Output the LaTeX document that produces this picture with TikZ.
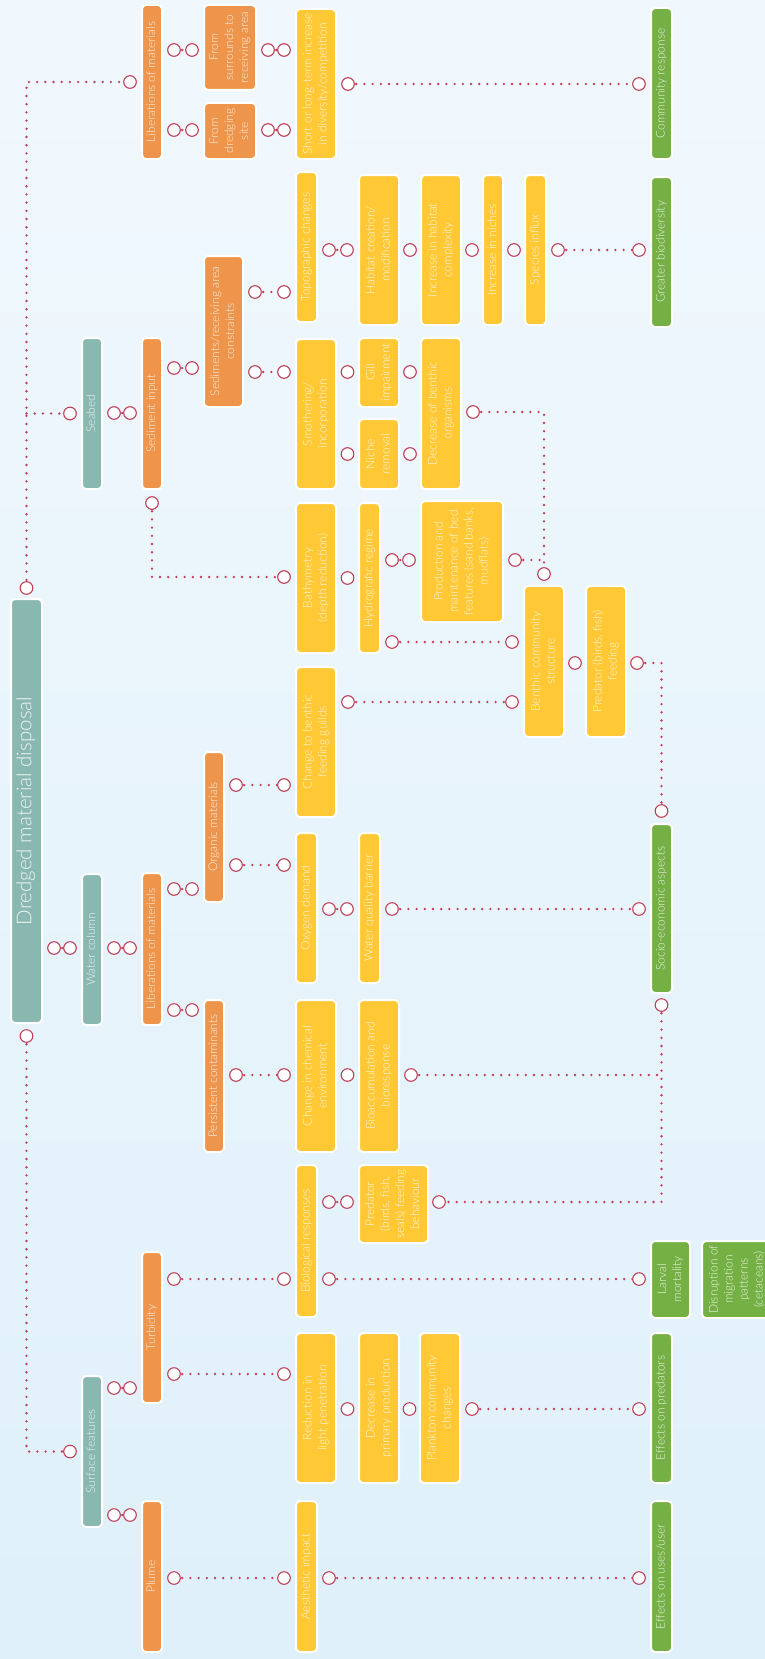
\documentclass[tikz,border=0pt]{standalone}
\usepackage{fontspec}
\setmainfont{Lato Light}
\usepackage{graphicx}
\usetikzlibrary{calc}

\definecolor{bgT}{HTML}{F1F8FD}
\definecolor{bgB}{HTML}{DFF0FA}
\definecolor{cTeal}{HTML}{88B8AF}
\definecolor{cOrange}{HTML}{EE954B}
\definecolor{cYellow}{HTML}{FFC834}
\definecolor{cGreen}{HTML}{75B045}
\definecolor{cDot}{HTML}{BE3F57}

% rotated, centred multi-line label
\newcommand\rt[1]{\rotatebox{90}{\begin{tabular}{@{}c@{}}#1\end{tabular}}}
% box: style, name, x1, x2, y1, y2, text
\newcommand\bx[7]{\node[box,#1,minimum width={#4-#3},minimum height={#6-#5}] (#2) at ({(#3+#4)/2},{(#5+#6)/2}) {\rt{#7}};}
% two ports joined by a dotted line, from east side of #1 to west side of #2 at height #3
\newcommand\hlink[3]{%
  \path (#1.east) ++(11,0) coordinate (pa) (#2.west) ++(-11,0) coordinate (pb);
  \draw[dotline] (pa |- 0,#3) -- (pb |- 0,#3);
  \draw[port] (pa |- 0,#3) circle (6.3pt) (pb |- 0,#3) circle (6.3pt);}
% single port half way between two adjacent boxes
\newcommand\mlink[3]{%
  \path (#1.east) -- (#2.west) coordinate[pos=.5] (pm);
  \draw[port] (pm |- 0,#3) circle (6.3pt);}

\tikzset{
  box/.style={rounded corners=4pt,draw=white,line width=2pt,inner sep=0pt,
    text=white,text opacity=.85,font=\fontsize{12}{15}\selectfont},
  tl/.style={fill=cTeal}, or/.style={fill=cOrange},
  ye/.style={fill=cYellow}, gr/.style={fill=cGreen},
  big/.style={font=\fontsize{20.5}{24}\selectfont},
  dotline/.style={draw=cDot,line width=2.6pt,line cap=round,dash pattern=on 0pt off 8.2pt},
  port/.style={draw=cDot,fill=white,line width=1.1pt},
}

\begin{document}
\begin{tikzpicture}[x=1pt,y=-1pt]
\useasboundingbox (0,0) rectangle (765,1659);
\clip (0,0) rectangle (765,1659);
\shade[top color=bgT,bottom color=bgB] (0,0) rectangle (765,1659);

% level 0 and 1
\bx{tl,big}{dmd}{11}{42}{599}{1023}{Dredged material disposal}
\bx{tl}{seab}{82}{102}{338}{489}{Seabed}
\bx{tl}{wcol}{82}{102}{874}{1025}{Water column}
\bx{tl}{surf}{82}{102}{1376}{1527}{Surface features}

% level 2
\bx{or}{libA}{142}{162}{5}{159}{Liberations of materials}
\bx{or}{sedin}{142}{162}{338}{489}{Sediment input}
\bx{or}{libB}{142}{162}{873}{1025}{Liberations of materials}
\bx{or}{turb}{142}{162}{1252}{1403}{Turbidity}
\bx{or}{plume}{142}{162}{1501}{1652}{Plume}
\bx{or}{fsur}{204}{256}{5}{90}{From\\surrounds to\\receiving area}
\bx{or}{fdre}{204}{256}{103}{159}{From\\dredging\\site}
\bx{or}{sedrc}{204}{243}{256}{407}{Sediments/receiving area\\constraints}
\bx{or}{orgm}{204}{224}{752}{902}{Organic materials}
\bx{or}{pers}{204}{224}{1000}{1152}{Persistent contaminants}

% effects
\bx{ye}{short}{296}{336}{9}{159}{Short or long-term increase\\in diversity/competition}
\bx{ye}{topo}{296}{317}{172}{322}{Topographic changes}
\bx{ye}{habc}{359}{399}{175}{325}{Habitat creation/\\modification}
\bx{ye}{incc}{421}{461}{175}{325}{Increase in habitat\\complexity}
\bx{ye}{incn}{483}{503}{175}{325}{Increase in niches}
\bx{ye}{spec}{525}{546}{175}{325}{Species influx}
\bx{ye}{smot}{296}{336}{339}{489}{Smothering/\\incorporation}
\bx{ye}{gill}{359}{399}{338}{407}{Gill\\impairment}
\bx{ye}{niche}{359}{399}{419}{489}{Niche\\removal}
\bx{ye}{decb}{421}{461}{338}{489}{Decrease of benthic\\organisms}
\bx{ye}{bathy}{296}{336}{503}{653}{Bathymetry\\(depth reduction)}
\bx{ye}{hydro}{359}{380}{503}{653}{Hydrografic regime}
\bx{ye}{prod}{421}{503}{501}{622}{Production and\\maintenance of bed\\features (sand banks,\\mudflats)}
\bx{ye}{benth}{524}{564}{586}{737}{Benthic community\\structure}
\bx{ye}{predf}{586}{626}{586}{737}{Predator (birds, fish)\\feeding}
\bx{ye}{guild}{296}{336}{667}{817}{Change to benthic\\feeding guilds}
\bx{ye}{oxy}{296}{317}{833}{983}{Oxygen demand}
\bx{ye}{wqb}{359}{380}{833}{983}{Water quality barrier}
\bx{ye}{chem}{296}{336}{1000}{1152}{Change in chemical\\environment}
\bx{ye}{bioac}{359}{399}{1000}{1152}{Bioaccumulation and\\bioresponse}
\bx{ye}{biol}{296}{317}{1165}{1317}{Biological responses}
\bx{ye}{predb}{359}{428}{1165}{1243}{Predator\\(birds, fish,\\seals) feeding\\behaviour}
\bx{ye}{redl}{296}{336}{1333}{1483}{Reduction in\\light penetration}
\bx{ye}{decp}{359}{399}{1333}{1483}{Decrease in\\primary production}
\bx{ye}{plank}{420}{460}{1333}{1483}{Plankton community\\changes}
\bx{ye}{aest}{296}{317}{1501}{1652}{Aesthetic impact}

% outcomes
\bx{gr}{comm}{651}{672}{8}{159}{Community response}
\bx{gr}{gbio}{651}{672}{177}{327}{Greater biodiversity}
\bx{gr}{socio}{651}{672}{824}{993}{Socio-economic aspects}
\bx{gr}{larv}{651}{690}{1241}{1318}{Larval\\mortality}
\bx{gr}{disr}{702}{772}{1241}{1318}{Disruption of\\migration\\patterns\\(cetaceans)}
\bx{gr}{effp}{651}{672}{1333}{1483}{Effects on predators}
\bx{gr}{effu}{651}{672}{1501}{1652}{Effects on uses/user}

% trunk from the root box
\path (dmd.north) ++(0,-10) coordinate (dT)
      (dmd.south) ++(0,12) coordinate (dB)
      (libA.west) ++(-11,0) coordinate (lA)
      (seab.west) ++(-11,0) coordinate (sB)
      (surf.west) ++(-11,0) coordinate (sF);
\draw[dotline] (dT) -- (dT |- lA) -- (lA);
\draw[dotline] (dT |- sB) -- (sB);
\draw[dotline] (dB) -- (dB |- sF) -- (sF);
\draw[port] (dT) circle (6.3pt) (lA) circle (6.3pt) (sB) circle (6.3pt)
            (dB) circle (6.3pt) (sF) circle (6.3pt);

\hlink{dmd}{wcol}{948}
\hlink{wcol}{libB}{948}
\hlink{seab}{sedin}{413}
\hlink{surf}{turb}{1388}
\hlink{surf}{plume}{1515}

% seabed branch
\hlink{libA}{fsur}{50}
\hlink{libA}{fdre}{130}
\hlink{fsur}{short}{50}
\hlink{fdre}{short}{130}
\hlink{short}{comm}{84}
\hlink{sedin}{sedrc}{368}
\hlink{sedrc}{topo}{292}
\hlink{sedrc}{smot}{372}
\hlink{topo}{habc}{250}
\mlink{habc}{incc}{250}
\mlink{incc}{incn}{250}
\mlink{incn}{spec}{250}
\hlink{spec}{gbio}{250}
\mlink{smot}{gill}{372}
\mlink{smot}{niche}{454}
\mlink{gill}{decb}{372}
\mlink{niche}{decb}{454}
\mlink{bathy}{hydro}{578}
\hlink{hydro}{prod}{560}
\hlink{hydro}{benth}{642}
\hlink{guild}{benth}{702}
\mlink{benth}{predf}{663}

\path (decb.east) ++(11,0) coordinate (a1)
      (benth.north) ++(0,-11) coordinate (a2)
      (prod.east) ++(11,0) coordinate (a3)
      (sedin.south) ++(0,13) coordinate (a4)
      (bathy.west) ++(-11,0) coordinate (a5)
      (predf.east) ++(10,0) coordinate (a6)
      (socio.north) ++(0,-12) coordinate (a7);
\draw[dotline] (a1 |- 0,412) -- (a2 |- 0,412) -- (a2);
\draw[dotline] (a3 |- 0,560) -- (a2 |- 0,560);
\draw[dotline] (a4) -- (a4 |- 0,577) -- (a5 |- 0,577);
\draw[dotline] (a6 |- 0,663) -- (a7 |- 0,663) -- (a7);
\draw[port] (a1 |- 0,412) circle (6.3pt) (a2) circle (6.3pt) (a3 |- 0,560) circle (6.3pt)
            (a4) circle (6.3pt) (a5 |- 0,577) circle (6.3pt)
            (a6 |- 0,663) circle (6.3pt) (a7) circle (6.3pt);

% water column branch
\hlink{libB}{orgm}{889}
\hlink{libB}{pers}{1010}
\hlink{orgm}{guild}{785}
\hlink{orgm}{oxy}{865}
\hlink{oxy}{wqb}{909}
\hlink{wqb}{socio}{909}
\hlink{pers}{chem}{1075}
\mlink{chem}{bioac}{1075}
\hlink{biol}{predb}{1202}

\path (socio.south) ++(0,11) coordinate (a8)
      (bioac.east) ++(11,0) coordinate (a9)
      (predb.east) ++(10,0) coordinate (a10);
\draw[dotline] (a8) -- (a8 |- 0,1202) -- (a10 |- 0,1202);
\draw[dotline] (a9 |- 0,1075) -- (a8 |- 0,1075);
\draw[port] (a8) circle (6.3pt) (a9 |- 0,1075) circle (6.3pt) (a10 |- 0,1202) circle (6.3pt);

% surface branch
\hlink{turb}{biol}{1279}
\hlink{biol}{larv}{1279}
\hlink{turb}{redl}{1374}
\mlink{redl}{decp}{1409}
\mlink{decp}{plank}{1409}
\hlink{plank}{effp}{1409}
\hlink{plume}{aest}{1578}
\hlink{aest}{effu}{1578}
\end{tikzpicture}
\end{document}
